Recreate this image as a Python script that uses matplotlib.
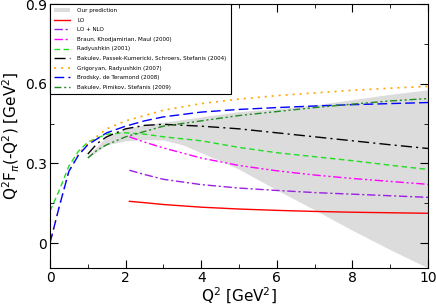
import matplotlib
matplotlib.use("Agg")
import matplotlib.pyplot as plt
import numpy as np
from matplotlib.ticker import MultipleLocator

# band "Our prediction"
band_q = [1.0, 1.5, 2.0, 2.5, 3.0, 3.5, 4.0, 4.5, 5.0, 6.0, 7.0, 8.0, 9.0, 10.0]
band_lo = [0.32, 0.37, 0.385, 0.39, 0.388, 0.37, 0.34, 0.31, 0.278, 0.2, 0.125, 0.048, -0.025, -0.094]
band_hi = [0.33, 0.40, 0.43, 0.445, 0.455, 0.465, 0.475, 0.485, 0.495, 0.506, 0.52, 0.54, 0.56, 0.577]

# LO, LO+NLO, BKM start at Q^2 ~ 2.1
q_hi = [2.1, 2.5, 3.0, 4.0, 5.0, 6.0, 7.0, 8.0, 9.0, 10.0]
lo = [0.157, 0.152, 0.145, 0.135, 0.128, 0.123, 0.119, 0.116, 0.114, 0.112]
lo_nlo = [0.274, 0.258, 0.24, 0.22, 0.207, 0.198, 0.19, 0.184, 0.178, 0.172]
bkm = [0.40, 0.38, 0.358, 0.32, 0.292, 0.272, 0.256, 0.243, 0.232, 0.221]

# curves from Q^2 = 0
q_all = [0.0, 0.25, 0.5, 0.75, 1.0, 1.5, 2.0, 2.5, 3.0, 4.0, 5.0, 6.0, 7.0, 8.0, 9.0, 10.0]
radyushkin = [0.12, 0.2, 0.29, 0.345, 0.38, 0.41, 0.415, 0.41, 0.40, 0.385, 0.36, 0.34, 0.325, 0.31, 0.293, 0.277]
grigoryan = [0.0, 0.14, 0.27, 0.335, 0.375, 0.43, 0.46, 0.48, 0.5, 0.525, 0.542, 0.555, 0.565, 0.575, 0.583, 0.59]
brodsky = [0.0, 0.14, 0.27, 0.33, 0.37, 0.415, 0.44, 0.46, 0.475, 0.493, 0.503, 0.51, 0.516, 0.521, 0.525, 0.529]

# curves from Q^2 = 1
q_one = [1.0, 1.25, 1.5, 2.0, 2.5, 3.0, 4.0, 5.0, 6.0, 7.0, 8.0, 9.0, 10.0]
bpkss = [0.335, 0.375, 0.40, 0.43, 0.443, 0.447, 0.44, 0.43, 0.415, 0.40, 0.385, 0.37, 0.356]
bps = [0.32, 0.35, 0.37, 0.40, 0.42, 0.44, 0.46, 0.48, 0.495, 0.51, 0.523, 0.535, 0.544]

fig = plt.figure(figsize=(4.36, 3.08), dpi=100)
ax = fig.add_axes([50/436, 40/308, 378/436, 264/308])

ax.fill_between(band_q, band_lo, band_hi, color='#dcdcdc', lw=0, label='Our prediction')
ax.plot(q_hi, lo, color='red', lw=1, label='LO')
ax.plot(q_hi, lo_nlo, color='#9a1ee6', lw=1, dashes=(6, 2, 1.5, 2), label='LO + NLO')
ax.plot(q_hi, bkm, color='magenta', lw=1, dashes=(6, 2, 1.5, 2, 1.5, 2), label='Braun, Khodjamirian, Maul (2000)')
ax.plot(q_all, radyushkin, color='#22dd22', lw=1, dashes=(4, 2.5), label='Radyushkin (2001)')
ax.plot(q_one, bpkss, color='black', lw=1, dashes=(8, 3, 1.5, 3), label='Bakulev, Passek-Kumericki, Schroers, Stefanis (2004)')
ax.plot(q_all, grigoryan, color='orange', lw=1.2, dashes=(1.2, 3), label='Grigoryan, Radyushkin (2007)')
ax.plot(q_all, brodsky, color='blue', lw=1, dashes=(7, 3), label='Brodsky, de Teramond (2008)')
ax.plot(q_one, bps, color='#228b22', lw=1, dashes=(5, 2, 1.5, 2, 1.5, 2), label='Bakulev, Pimikov, Stefanis (2009)')

ax.set_xlim(0, 10)
ax.set_ylim(-0.094, 0.9)
ax.xaxis.set_major_locator(MultipleLocator(2))
ax.xaxis.set_minor_locator(MultipleLocator(1))
ax.yaxis.set_major_locator(MultipleLocator(0.3))
ax.yaxis.set_minor_locator(MultipleLocator(0.15))
ax.set_yticks([0, 0.3, 0.6, 0.9])
ax.set_yticklabels(['0', '0.3', '0.6', '0.9'])
ax.tick_params(which='both', direction='in', top=True, right=True, labelsize=10, pad=2)
ax.tick_params(which='major', length=6)
ax.tick_params(which='minor', length=3)

ax.set_xlabel(r'Q$^2$ [GeV$^2$]', fontsize=11, labelpad=1)
ax.set_ylabel(r'Q$^2$F$_\pi$(-Q$^2$) [GeV$^2$]', fontsize=11, labelpad=2)

leg = ax.legend(loc='upper left', fontsize=4.1, frameon=True, fancybox=False,
                edgecolor='black', framealpha=1, handlelength=2.7, handletextpad=1.3,
                borderaxespad=0, labelspacing=0.8, borderpad=0.75)
leg.get_frame().set_linewidth(0.8)

fig.savefig('out.png', dpi=100)
